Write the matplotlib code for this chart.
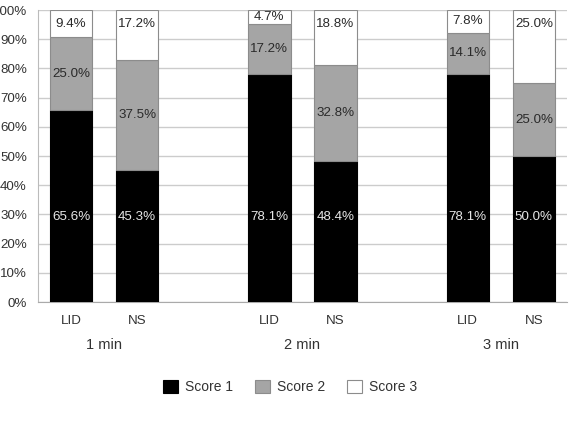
import numpy as np
import matplotlib
matplotlib.use("Agg")
import matplotlib.pyplot as plt
from matplotlib.patches import Patch

plt.rcParams['font.family'] = ['Liberation Sans', 'DejaVu Sans']

groups = ['1 min', '2 min', '3 min']
methods = ['LID', 'NS']
score1 = [65.6, 45.3, 78.1, 48.4, 78.1, 50.0]
score2 = [25.0, 37.5, 17.2, 32.8, 14.1, 25.0]
score3 = [9.4, 17.2, 4.7, 18.8, 7.8, 25.0]
series_names = ['Score 1', 'Score 2', 'Score 3']

colors = ['#000000', '#a5a5a5', '#ffffff']
edges = ['#000000', '#8c8c8c', '#8c8c8c']
txt_colors = ['#e6e6e6', '#2a2a2a', '#2a2a2a']

fig = plt.figure(figsize=(5.73, 4.26), dpi=100)
ax = fig.add_axes([0.0663, 0.291, 0.9232, 0.6855])

# positions: two bars per group, one empty slot between groups
x = np.array([g * 3 + m for g in range(len(groups)) for m in range(len(methods))], dtype=float)
w = 0.64

bottom = np.zeros(len(x))
for i, vals in enumerate([score1, score2, score3]):
    vals = np.array(vals)
    ax.bar(x, vals, w, bottom=bottom, color=colors[i], edgecolor=edges[i],
           linewidth=0.8, zorder=3)
    for xi, b, v in zip(x, bottom, vals):
        if i == 0:
            yl = 29.0
        elif i == 1:
            yl = b + v / 2
        else:
            yl = b + v - min(v / 2, 4.8)
        ax.text(xi, yl, '%.1f%%' % v, ha='center', va='center',
                fontsize=9.6, color=txt_colors[i], zorder=4)
    bottom += vals

ax.set_xlim(-0.5, 7.5)
ax.set_ylim(0, 100)
ax.set_yticks(np.arange(0, 101, 10))
ax.set_yticklabels(['%d%%' % v for v in range(0, 101, 10)])
ax.yaxis.grid(True, color='#cccccc', linewidth=1, zorder=0)
ax.set_axisbelow(True)
for s in ['top', 'right']:
    ax.spines[s].set_visible(False)
ax.spines['left'].set_color('#bbbbbb')
ax.spines['bottom'].set_color('#aaaaaa')
ax.tick_params(axis='y', length=0, pad=8, labelsize=9.6, labelcolor='#333333')
ax.set_xticks(x)
ax.set_xticklabels(methods * len(groups))
ax.tick_params(axis='x', length=0, pad=9, labelsize=9.6, labelcolor='#333333')

for g, name in enumerate(groups):
    ax.text(g * 3 + 0.5, -14.8, name, ha='center', va='center', fontsize=10.5,
            color='#333333', transform=ax.transData)

handles = [Patch(facecolor=colors[i], edgecolor=edges[i], linewidth=0.8)
           for i in range(3)]
fig.legend(handles, series_names, loc='center', bbox_to_anchor=(0.506, 0.092),
           ncol=3, frameon=False, fontsize=10, handlelength=1.05, handleheight=1.05,
           handletextpad=0.5, columnspacing=1.6, labelcolor='#333333')

fig.savefig('out.png', dpi=100)
